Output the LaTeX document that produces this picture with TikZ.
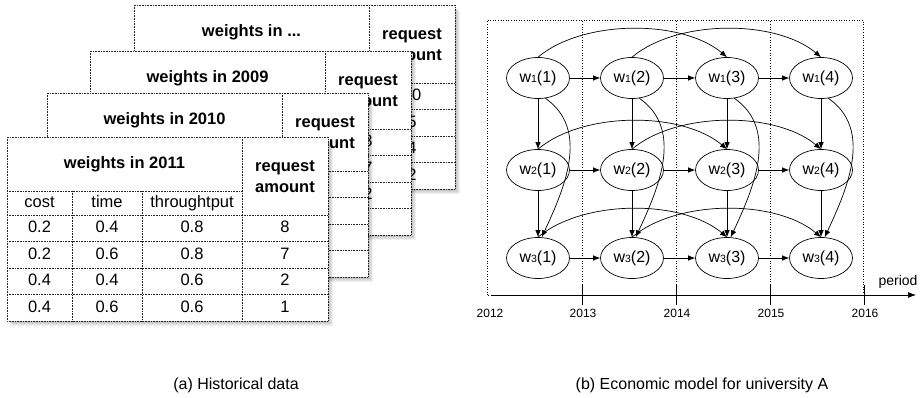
\documentclass[tikz,border=0pt]{standalone}
\usepackage{fontspec}
\setmainfont{Liberation Sans}
\usetikzlibrary{arrows.meta, shapes.geometric}
\newcommand{\wsub}[1]{{\fontsize{10.5}{12}\selectfont #1}}
\tikzset{
  cardline/.style={densely dotted, line width=0.6pt, draw=black!85},
  celltext/.style={font=\fontsize{16.5}{19}\selectfont, inner sep=0, text height=12pt, text depth=3.5pt},
  titletext/.style={celltext, font=\fontsize{16.5}{19}\selectfont\bfseries},
  reqtext/.style={inner sep=0, align=center, font=\fontsize{16.5}{21}\selectfont\bfseries},
  wstate/.style={ellipse, draw, line width=0.7pt, minimum width=63pt, minimum height=41pt, inner sep=0, font=\fontsize{16}{19}\selectfont},
  flow/.style={-{Latex[length=7pt,width=5.5pt]}, line width=0.7pt},
  yeartext/.style={font=\fontsize{12}{14}\selectfont},
}
% #1: shift, #2: name, #3: title
\newcommand{\weightcard}[3]{%
  \begin{scope}[shift={#1}]
    \foreach \s in {1,...,5}
      \fill[black, opacity=0.06] (\s,-\s-1) rectangle (321+\s,-184-\s);
    \filldraw[fill=white, cardline] (0,0) rectangle (321,-184);
    \draw[cardline] (235,0) -- (235,-184);
    \draw[cardline] (0,-54) -- (235,-54);
    \draw[cardline] (65,-54) -- (65,-184);
    \draw[cardline] (135,-54) -- (135,-184);
    \foreach \ry in {78,104.5,131,157.5}
      \draw[cardline] (0,-\ry) -- (321,-\ry);
    \node[titletext] (#2-title) at (117.5,-27) {#3};
    \node[reqtext] (#2-req) at (278,-40) {request\\amount};
  \end{scope}}

\begin{document}
\begin{tikzpicture}[x=1pt, y=1pt]
  \useasboundingbox (0,0) rectangle (923,397);

  % (a) 過去のデータ
  \weightcard{(134,392)}{c4}{weights in ...}
  \foreach \v [count=\i] in {10,5,4,2}
    \node[celltext] (c4-r\i) at (412,327-26.5*\i) {\v};
  \weightcard{(90,346)}{c3}{weights in 2009}
  \foreach \v [count=\i] in {8,7,2}
    \node[celltext] (c3-r\i) at (368,281-26.5*\i) {\v};
  \weightcard{(47,304)}{c2}{weights in 2010}
  \weightcard{(7,260)}{c1}{weights in 2011}
  \node[celltext] (c1-cost) at (39.5,194) {cost};
  \node[celltext] (c1-time) at (107,194) {time};
  \node[celltext] (c1-thru) at (192,194) {throughtput};
  \foreach \wc/\wt/\wp/\rq [count=\i] in {0.2/0.4/0.8/8, 0.2/0.6/0.8/7, 0.4/0.4/0.6/2, 0.4/0.6/0.6/1} {
    \node[celltext] (c1-c\i) at (39.5,195-26.5*\i) {\wc};
    \node[celltext] (c1-t\i) at (107,195-26.5*\i) {\wt};
    \node[celltext] (c1-p\i) at (192,195-26.5*\i) {\wp};
    \node[celltext] (c1-r\i) at (285,195-26.5*\i) {\rq};
  }
  \node[font=\fontsize{16}{19}\selectfont] (capa) at (236,12) {(a) Historical data};

  % (b) 経済モデル
  \draw[dotted, line width=0.6pt] (487,102) rectangle (863,377);
  \foreach \x in {582,676,770}
    \draw[dotted, line width=0.6pt] (\x,102) -- (\x,377);
  \coordinate (ax0) at (491,102);
  \coordinate (ax1) at (916,102);
  \draw[-{Latex[length=8pt,width=6pt]}, line width=0.7pt] (ax0) -- (ax1);
  \foreach \x in {582,676,770,864}
    \draw[line width=0.7pt] (\x,92) -- (\x,112);
  \foreach \yr/\x in {2012/490,2013/583,2014/677,2015/771,2016/865}
    \node[yeartext] (y\yr) at (\x,84) {\yr};
  \node[font=\fontsize{14}{16}\selectfont] (period) at (898,115) {period};

  \foreach \r/\ry in {1/319,2/227,3/139}
    \foreach \c/\cx in {1/538,2/632,3/727,4/821}
      \node[wstate] (w\r\c) at (\cx,\ry) {w\wsub{\r}(\c)};

  \foreach \r in {1,2,3}
    \foreach \c/\n in {1/2,2/3,3/4}
      \draw[flow] (w\r\c) -- (w\r\n);
  \foreach \c in {1,...,4} {
    \draw[flow] (w1\c) -- (w2\c);
    \draw[flow] (w2\c) -- (w3\c);
    \draw[flow] (w1\c.-70) to[out=-35, in=65] (w3\c.80);
  }
  \foreach \r in {1,2,3}
    \foreach \c/\n in {1/3,2/4}
      \draw[flow] (w\r\c.north) to[out=40, in=140, looseness=0.8] (w\r\n.north);
  \node[font=\fontsize{16}{19}\selectfont] (capb) at (702,12) {(b) Economic model for university A};
\end{tikzpicture}
\end{document}
